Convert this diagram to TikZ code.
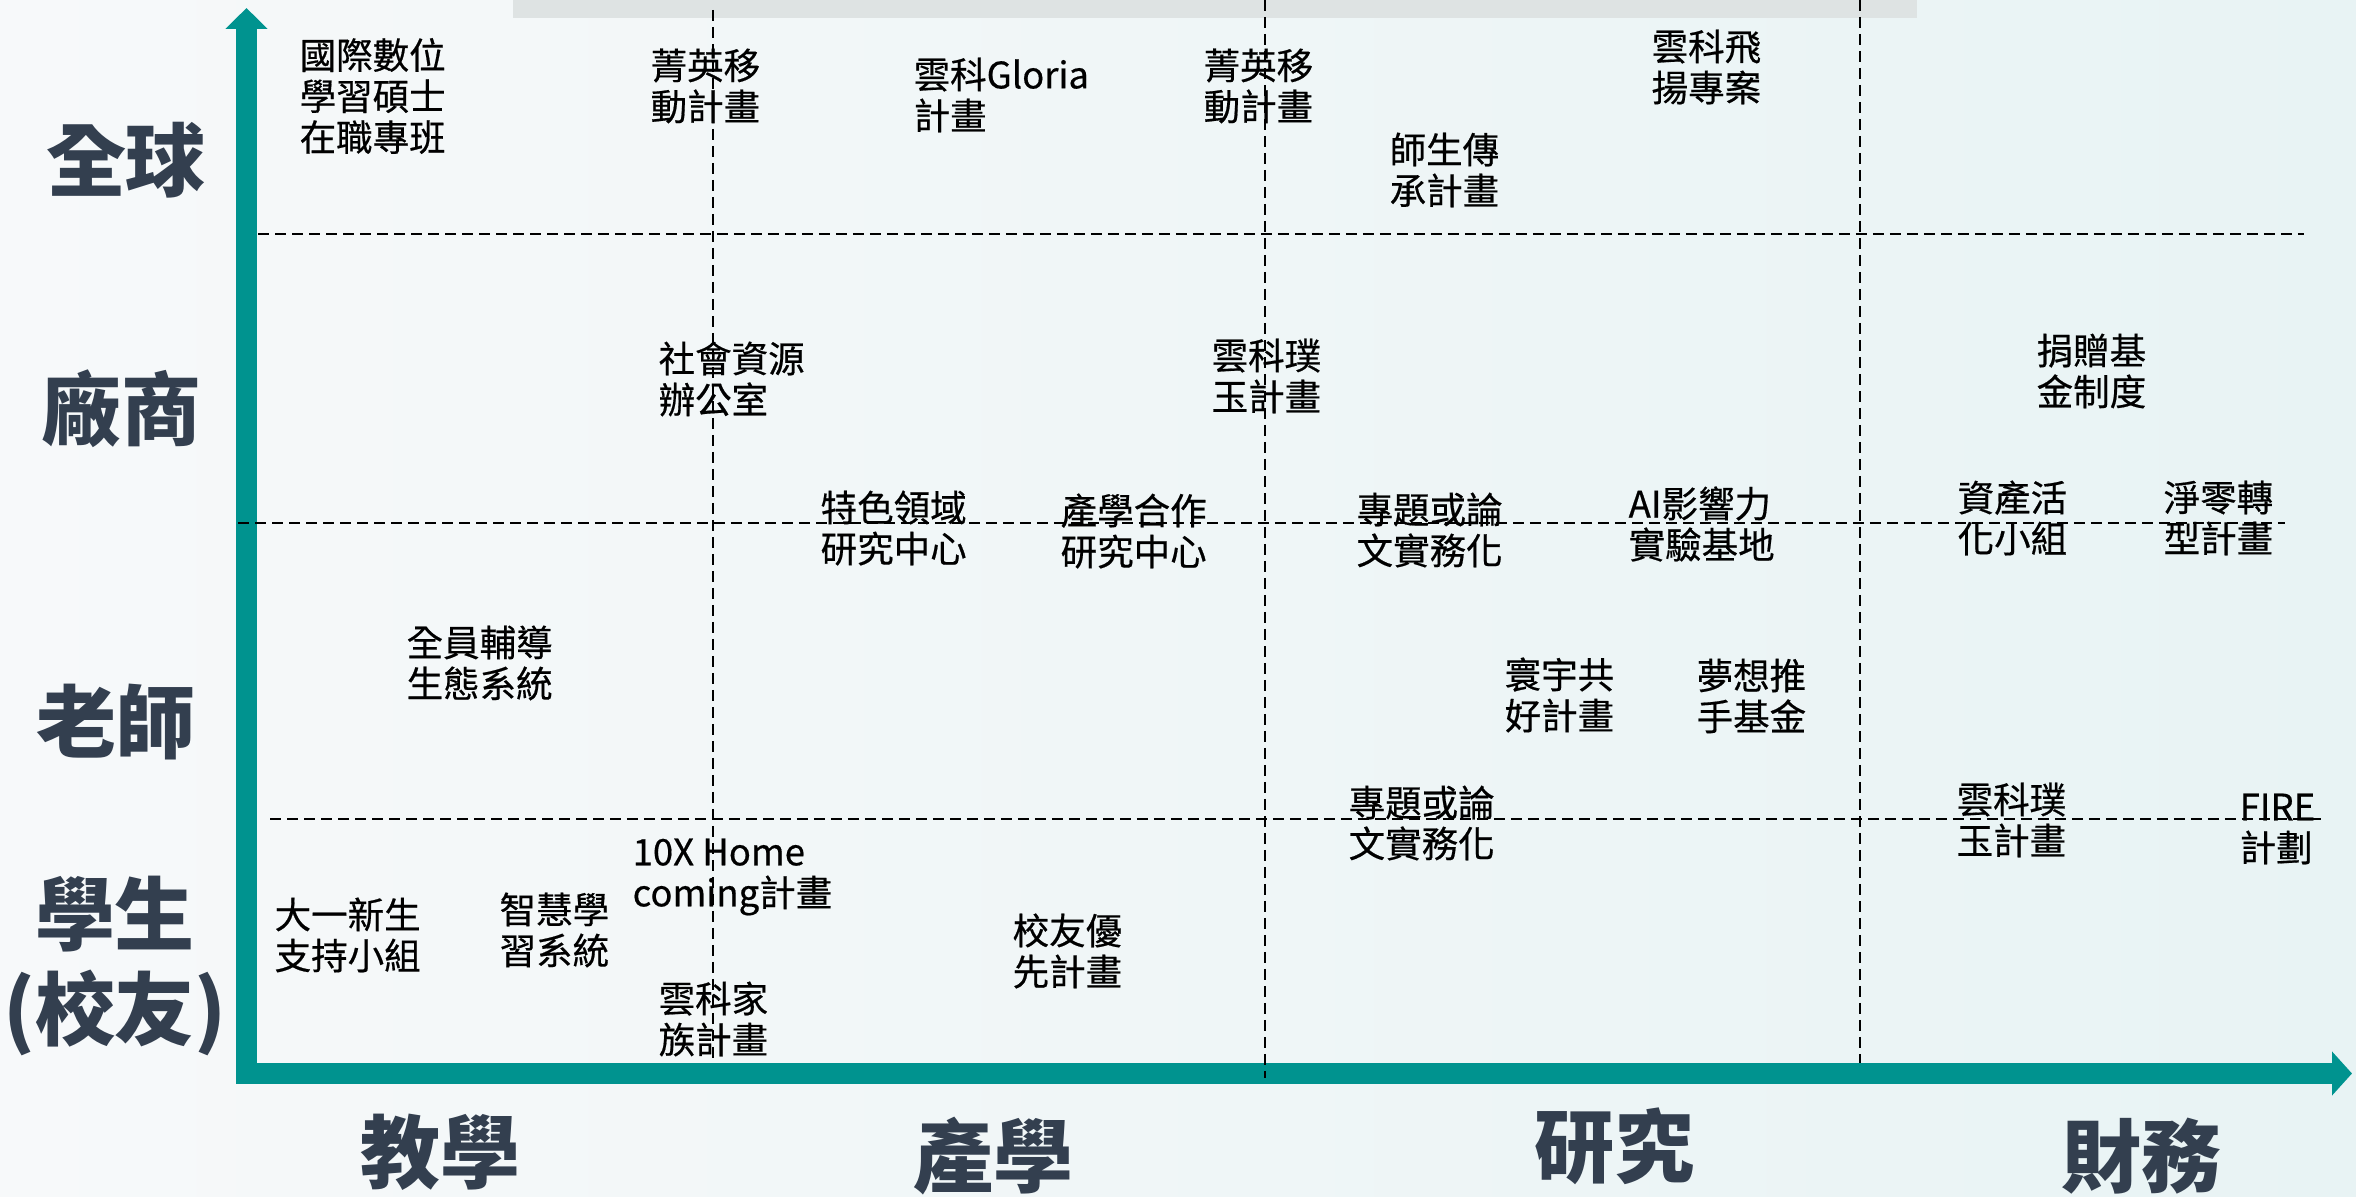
\documentclass[tikz,border=0pt]{standalone}
\usepackage{fontspec}
\newfontfamily\cjk{Noto Sans CJK TC}
\newfontfamily\cjkitem[FakeBold=0.5]{Noto Sans CJK TC}
\usetikzlibrary{arrows.meta}
\definecolor{axisteal}{HTML}{00938F}
\definecolor{labelgray}{HTML}{333F4F}
\definecolor{bargray}{HTML}{DEE3E3}
\definecolor{bgL}{HTML}{F7F9FA}
\definecolor{bgR}{HTML}{E8F3F4}
\begin{document}
\begin{tikzpicture}[x=0.3pt,y=-0.3pt,
  item/.style={font=\cjkitem\fontsize{10.95pt}{12.3pt}\selectfont, align=left, anchor=west, inner sep=0pt, text=black},
  axislbl/.style={font=\cjk\bfseries\fontsize{24pt}{28.5pt}\selectfont, align=center, inner sep=0pt, text=labelgray},
  gridline/.style={dash pattern=on 3.3pt off 1.8pt, line width=0.45pt, black},
  axisline/.style={line width=6.3pt, axisteal, line join=miter, {Triangle[width=12.3pt,length=6.3pt]}-{Triangle[width=12.9pt,length=6pt]}}]
\useasboundingbox (0,0) rectangle (2356,1197);
\shade[left color=bgL,right color=bgR] (0,0) rectangle (2356,1197);
\fill[bargray] (513,0) rectangle (1917,18);
% axes
\coordinate (ytip) at (246.5,8);
\coordinate (origin) at (246.5,1073.5);
\coordinate (xtip) at (2352,1073.5);
\draw[axisline] (ytip) -- (origin) -- (xtip);
% grid
\coordinate (h1a) at (258,234);  \coordinate (h1b) at (2304,234);
\coordinate (h2a) at (238,523);  \coordinate (h2b) at (2285,523);
\coordinate (h3a) at (270,819);  \coordinate (h3b) at (2325,819);
\coordinate (v1a) at (713,10);   \coordinate (v1b) at (713,1062);
\coordinate (v2a) at (1265,0);   \coordinate (v2b) at (1265,1078);
\coordinate (v3a) at (1860,0);   \coordinate (v3b) at (1860,1063);
\draw[gridline] (h1a) -- (h1b);
\draw[gridline] (h2a) -- (h2b);
\draw[gridline] (h3a) -- (h3b);
\draw[gridline] (v1a) -- (v1b);
\draw[gridline] (v2a) -- (v2b);
\draw[gridline] (v3a) -- (v3b);
% axis labels
\node[axislbl] (yglobal) at (126,160) {全球};
\node[axislbl] (yfirm) at (121,409) {廠商};
\node[axislbl] (yteacher) at (116,722) {老師};
\node[axislbl] (ystudent) at (115,966) {學生\\(校友)};
\node[axislbl] (xteach) at (440,1152) {教學};
\node[axislbl] (xindustry) at (993,1156) {產學};
\node[axislbl] (xresearch) at (1614,1146) {研究};
\node[axislbl] (xfinance) at (2141,1156) {財務};
% items
\node[item] (n1) at (299,96) {國際數位\\學習碩士\\在職專班};
\node[item] (n2) at (650,86) {菁英移\\動計畫};
\node[item] (n3) at (913,95) {雲科Gloria\\計畫};
\node[item] (n4) at (1203,86) {菁英移\\動計畫};
\node[item] (n5) at (1389,170) {師生傳\\承計畫};
\node[item] (n6) at (1651,67) {雲科飛\\揚專案};
\node[item] (n7) at (658,379) {社會資源\\辦公室};
\node[item] (n8) at (1211,376) {雲科璞\\玉計畫};
\node[item] (n9) at (2036,371) {捐贈基\\金制度};
\node[item] (n10) at (820,528) {特色領域\\研究中心};
\node[item] (n11) at (1060,531) {產學合作\\研究中心};
\node[item] (n12) at (1356,530) {專題或論\\文實務化};
\node[item] (n13) at (1628,524) {AI影響力\\實驗基地};
\node[item] (n14) at (1957,518) {資產活\\化小組};
\node[item] (n15) at (2163,518) {淨零轉\\型計畫};
\node[item] (n16) at (406,663) {全員輔導\\生態系統};
\node[item] (n17) at (1504,695) {寰宇共\\好計畫};
\node[item] (n18) at (1696,696) {夢想推\\手基金};
\node[item] (n19) at (1348,823) {專題或論\\文實務化};
\node[item] (n20) at (1956,820) {雲科璞\\玉計畫};
\node[item] (n21) at (2239,829) {FIRE\\計劃};
\node[item] (n22) at (632,877) {10X Home\\coming計畫};
\node[item] (n23) at (274,935) {大一新生\\支持小組};
\node[item] (n24) at (499,930) {智慧學\\習系統};
\node[item] (n25) at (658,1019) {雲科家\\族計畫};
\node[item] (n26) at (1012,951) {校友優\\先計畫};
\end{tikzpicture}
\end{document}
